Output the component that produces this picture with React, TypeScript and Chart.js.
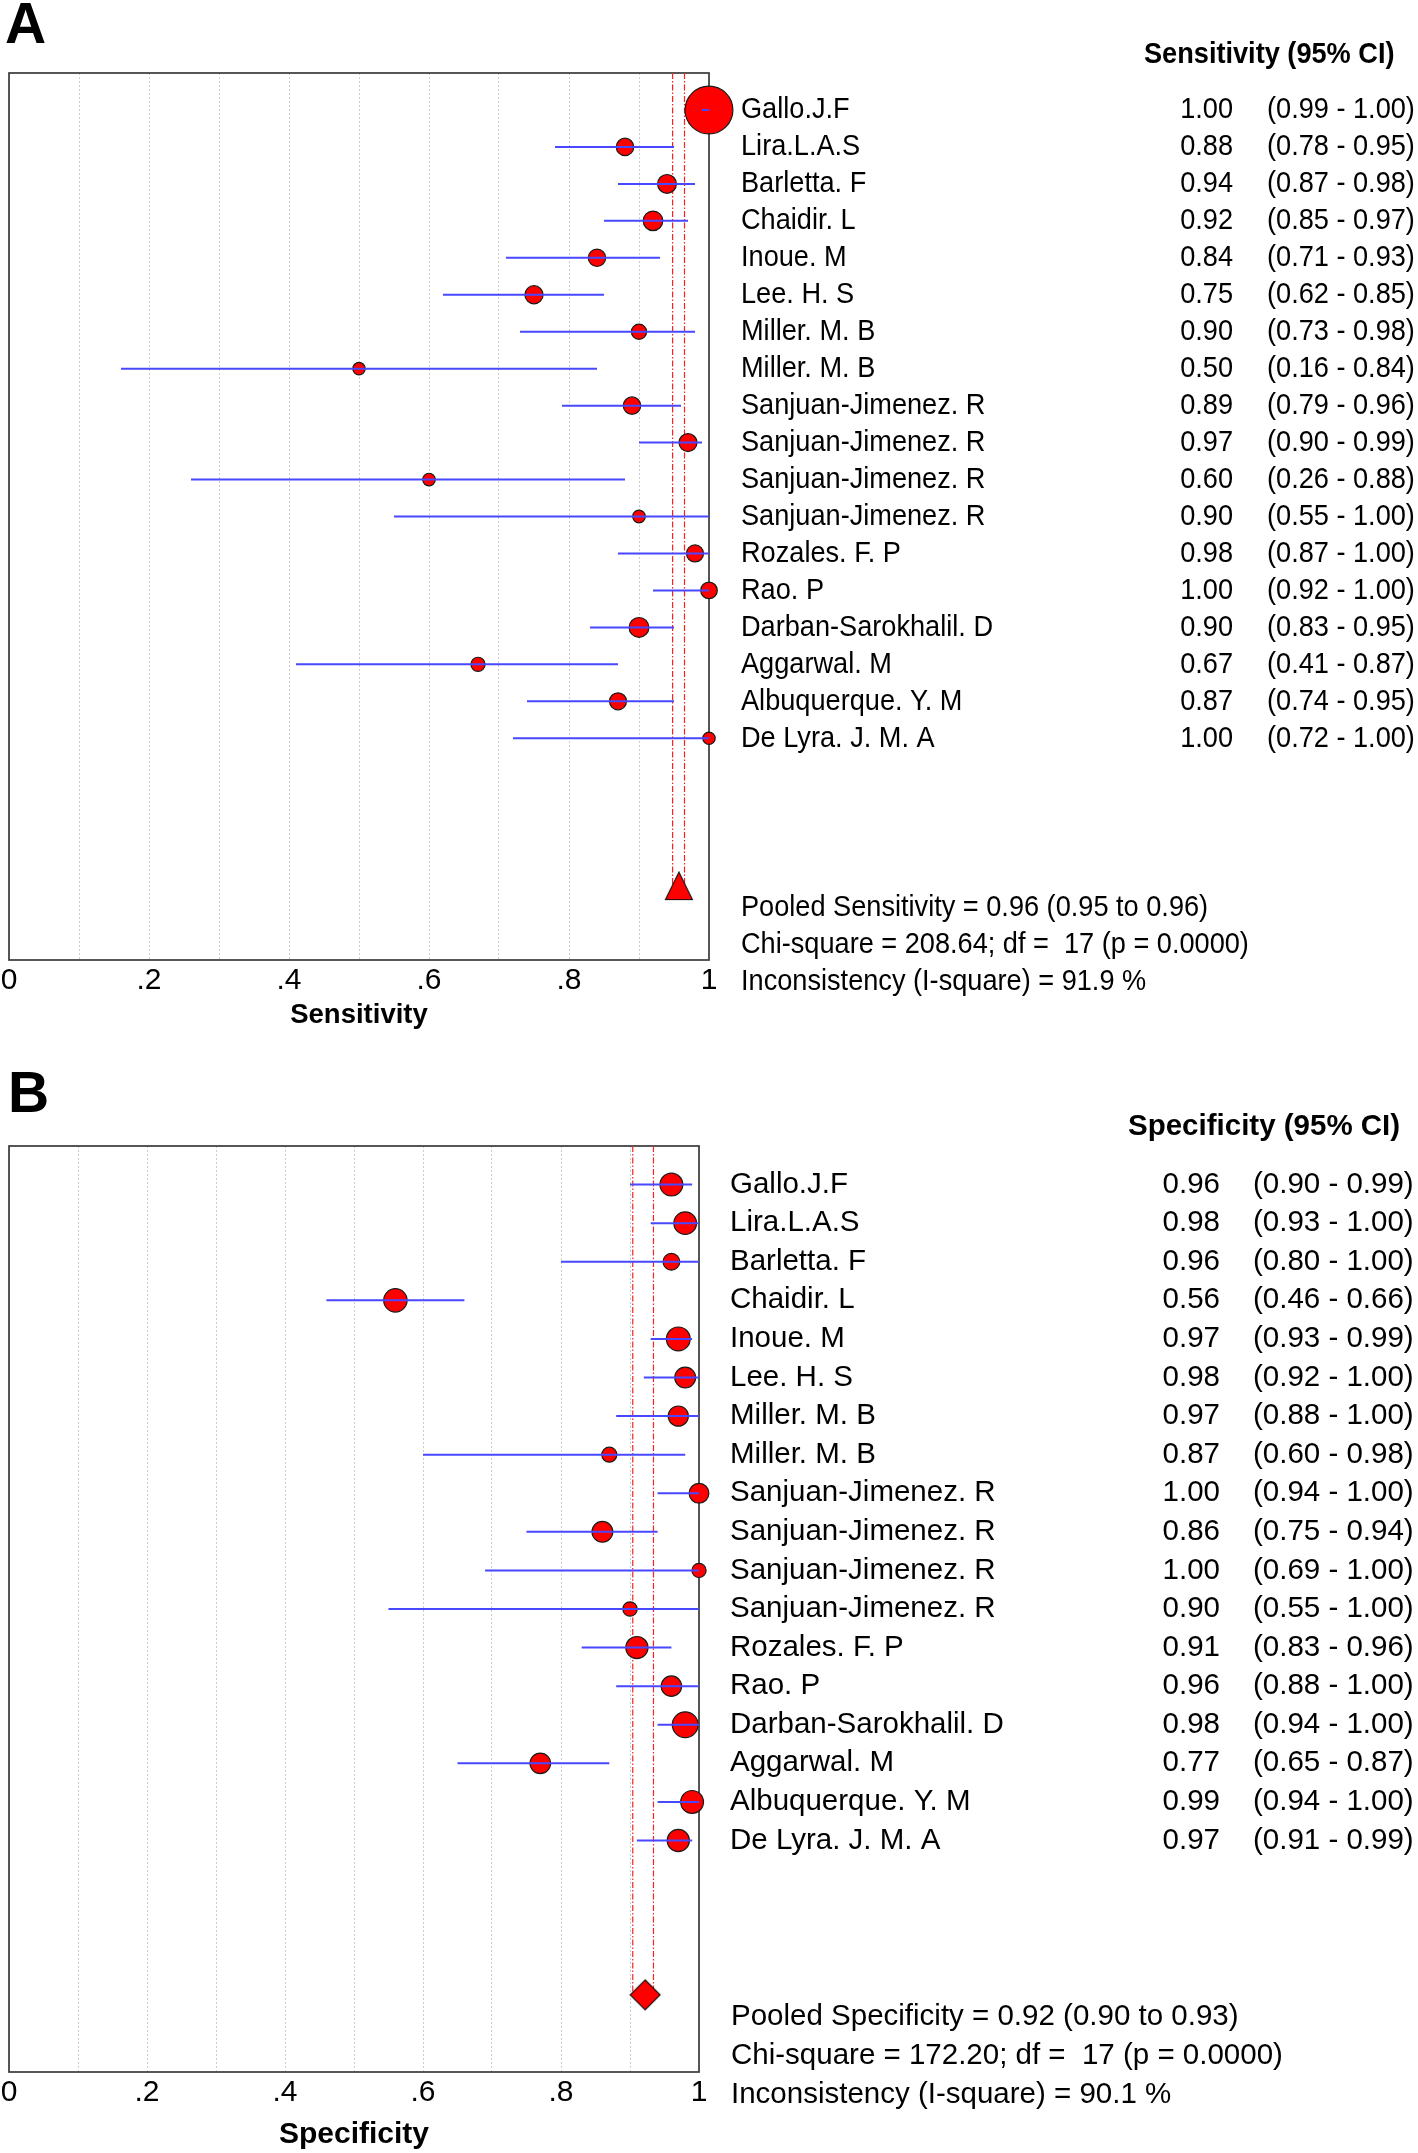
import React, { useEffect, useRef } from "react";
import { Chart, registerables } from "chart.js";

Chart.register(...registerables);

// ---------------- DATA ----------------
const studies = [
  "Gallo.J.F",
  "Lira.L.A.S",
  "Barletta. F",
  "Chaidir. L",
  "Inoue. M",
  "Lee. H. S",
  "Miller. M. B",
  "Miller. M. B",
  "Sanjuan-Jimenez. R",
  "Sanjuan-Jimenez. R",
  "Sanjuan-Jimenez. R",
  "Sanjuan-Jimenez. R",
  "Rozales. F. P",
  "Rao. P",
  "Darban-Sarokhalil. D",
  "Aggarwal. M",
  "Albuquerque. Y. M",
  "De Lyra. J. M. A",
];

const sensitivity = [1.0, 0.88, 0.94, 0.92, 0.84, 0.75, 0.9, 0.5, 0.89, 0.97, 0.6, 0.9, 0.98, 1.0, 0.9, 0.67, 0.87, 1.0];
const sensLower = [0.99, 0.78, 0.87, 0.85, 0.71, 0.62, 0.73, 0.16, 0.79, 0.9, 0.26, 0.55, 0.87, 0.92, 0.83, 0.41, 0.74, 0.72];
const sensUpper = [1.0, 0.95, 0.98, 0.97, 0.93, 0.85, 0.98, 0.84, 0.96, 0.99, 0.88, 1.0, 1.0, 1.0, 0.95, 0.87, 0.95, 1.0];
const sensWeight = [24.5, 9.3, 10, 10.4, 9.3, 9.7, 8.2, 6.8, 9.3, 9.6, 6.9, 6.9, 9.1, 8.9, 10.5, 7.7, 9.1, 6.8];

const specificity = [0.96, 0.98, 0.96, 0.56, 0.97, 0.98, 0.97, 0.87, 1.0, 0.86, 1.0, 0.9, 0.91, 0.96, 0.98, 0.77, 0.99, 0.97];
const specLower = [0.9, 0.93, 0.8, 0.46, 0.93, 0.92, 0.88, 0.6, 0.94, 0.75, 0.69, 0.55, 0.83, 0.88, 0.94, 0.65, 0.94, 0.91];
const specUpper = [0.99, 1.0, 1.0, 0.66, 0.99, 1.0, 1.0, 0.98, 1.0, 0.94, 1.0, 1.0, 0.96, 1.0, 1.0, 0.87, 1.0, 0.99];
const specWeight = [12, 11.9, 9, 12.3, 12.5, 11, 10.7, 8.1, 10.5, 11, 7.7, 7.8, 11.7, 10.8, 13.5, 10.9, 12, 11.7];

const pooledSens = 0.957;
const pooledSensCI = [0.948, 0.965];
const pooledSpec = 0.922;
const pooledSpecCI = [0.904, 0.934];

const sensSummary = [
  "Pooled Sensitivity = 0.96 (0.95 to 0.96)",
  "Chi-square = 208.64; df =  17 (p = 0.0000)",
  "Inconsistency (I-square) = 91.9 %",
];
const specSummary = [
  "Pooled Specificity = 0.92 (0.90 to 0.93)",
  "Chi-square = 172.20; df =  17 (p = 0.0000)",
  "Inconsistency (I-square) = 90.1 %",
];

const xTickLabels = ["0", ".2", ".4", ".6", ".8", "1"];

// ---------------- LAYOUT ----------------
const FONT = "'Liberation Sans', Arial, Helvetica, sans-serif";
const POOLED_ROW = 21;

type PanelCfg = {
  letter: string;
  header: string;
  axisTitle: string;
  values: number[];
  lower: number[];
  upper: number[];
  weights: number[];
  pooled: number;
  pooledCI: number[];
  pooledShape: "triangle" | "diamond";
  summary: string[];
  top: number;
  height: number;
  padTop: number;
  padLeft: number;
  padRight: number;
  xHeight: number;
  tickPad: number;
  tickFont: number;
  titleFont: number;
  titlePadBottom: number;
  fontSize: number;
  sx: number;
  nameX: number;
  valueRightX: number;
  ciX: number;
  headerX: number;
  summaryX: number;
  letterX: number;
  letterY: number;
};

const panels: PanelCfg[] = [
  {
    letter: "A",
    header: "Sensitivity (95% CI)",
    axisTitle: "Sensitivity",
    values: sensitivity,
    lower: sensLower,
    upper: sensUpper,
    weights: sensWeight,
    pooled: pooledSens,
    pooledCI: pooledSensCI,
    pooledShape: "triangle",
    summary: sensSummary,
    top: 0,
    height: 1050,
    padTop: 73,
    padLeft: 9,
    padRight: 709,
    xHeight: 90,
    tickPad: 2.5,
    tickFont: 30,
    titleFont: 27.5,
    titlePadBottom: 18,
    fontSize: 30,
    sx: 0.905,
    nameX: 741,
    valueRightX: 1233,
    ciX: 1267,
    headerX: 1144,
    summaryX: 741,
    letterX: 5,
    letterY: 43,
  },
  {
    letter: "B",
    header: "Specificity (95% CI)",
    axisTitle: "Specificity",
    values: specificity,
    lower: specLower,
    upper: specUpper,
    weights: specWeight,
    pooled: pooledSpec,
    pooledCI: pooledSpecCI,
    pooledShape: "diamond",
    summary: specSummary,
    top: 1050,
    height: 1103,
    padTop: 96,
    padLeft: 9,
    padRight: 719,
    xHeight: 81,
    tickPad: 3,
    tickFont: 30,
    titleFont: 30,
    titlePadBottom: 0.5,
    fontSize: 29.5,
    sx: 1.0,
    nameX: 730,
    valueRightX: 1220,
    ciX: 1253,
    headerX: 1128,
    summaryX: 731,
    letterX: 8,
    letterY: 62,
  },
];

function drawText(
  ctx: CanvasRenderingContext2D,
  text: string,
  x: number,
  y: number,
  font: string,
  align: CanvasTextAlign,
  sx: number,
  baseline: CanvasTextBaseline = "middle"
) {
  ctx.save();
  ctx.translate(x, y);
  ctx.scale(sx, 1);
  ctx.font = font;
  ctx.textAlign = align;
  ctx.textBaseline = baseline;
  ctx.fillStyle = "#000";
  ctx.fillText(text, 0, 0);
  ctx.restore();
}

// marker image for the pooled estimate (placed by the scales via pointStyle)
function makeMarker(shape: "triangle" | "diamond"): HTMLCanvasElement {
  const c = document.createElement("canvas");
  const w = shape === "triangle" ? 30 : 32;
  const h = shape === "triangle" ? 30 : 32;
  c.width = w;
  c.height = h;
  const g = c.getContext("2d")!;
  g.beginPath();
  if (shape === "triangle") {
    g.moveTo(w / 2, 1);
    g.lineTo(w - 1.5, h - 1.5);
    g.lineTo(1.5, h - 1.5);
  } else {
    g.moveTo(w / 2, 1);
    g.lineTo(w - 1, h / 2);
    g.lineTo(w / 2, h - 1);
    g.lineTo(1, h / 2);
  }
  g.closePath();
  g.fillStyle = "#ff0000";
  g.fill();
  g.lineWidth = 1.1;
  g.strokeStyle = "#111";
  g.stroke();
  return c;
}

function Panel({ cfg }: { cfg: PanelCfg }) {
  const ref = useRef<HTMLCanvasElement | null>(null);

  useEffect(() => {
    const canvas = ref.current;
    if (!canvas) return;

    const ciData: any[] = [];
    cfg.values.forEach((_, i) => {
      ciData.push({ x: cfg.lower[i], y: i });
      ciData.push({ x: cfg.upper[i], y: i });
      ciData.push({ x: null, y: null });
    });

    const pooledLines = [
      { x: cfg.pooledCI[0], y: -1 },
      { x: cfg.pooledCI[0], y: POOLED_ROW },
      { x: null, y: null },
      { x: cfg.pooledCI[1], y: -1 },
      { x: cfg.pooledCI[1], y: POOLED_ROW },
    ];

    const boxPlugin = {
      id: "boxPlugin",
      beforeDatasetsDraw(chart: any) {
        const { ctx, chartArea: ca } = chart;
        ctx.save();
        ctx.strokeStyle = "#3a3a3a";
        ctx.lineWidth = 1.7;
        ctx.strokeRect(ca.left, ca.top, ca.right - ca.left, ca.bottom - ca.top);
        ctx.restore();
      },
    };

    const textPlugin = {
      id: "textPlugin",
      afterDraw(chart: any) {
        const ctx: CanvasRenderingContext2D = chart.ctx;
        const ys = chart.scales.y;
        const reg = `${cfg.fontSize}px ${FONT}`;
        const bold = `bold ${cfg.fontSize}px ${FONT}`;
        drawText(ctx, cfg.letter, cfg.letterX, cfg.letterY, `bold 57px ${FONT}`, "left", 1, "alphabetic");
        drawText(ctx, cfg.header, cfg.headerX, ys.getPixelForValue(-1.5), bold, "left", cfg.sx);
        studies.forEach((name, i) => {
          const y = ys.getPixelForValue(i);
          drawText(ctx, name, cfg.nameX, y, reg, "left", cfg.sx);
          drawText(ctx, cfg.values[i].toFixed(2), cfg.valueRightX, y, reg, "right", cfg.sx);
          drawText(
            ctx,
            `(${cfg.lower[i].toFixed(2)} - ${cfg.upper[i].toFixed(2)})`,
            cfg.ciX,
            y,
            reg,
            "left",
            cfg.sx
          );
        });
        cfg.summary.forEach((line, k) => {
          drawText(ctx, line, cfg.summaryX, ys.getPixelForValue(POOLED_ROW + 0.58 + k), reg, "left", cfg.sx);
        });
      },
    };

    const chart = new Chart(canvas, {
      type: "scatter",
      data: {
        datasets: [
          {
            data: ciData,
            showLine: true,
            spanGaps: false,
            borderColor: "#4848ff",
            borderWidth: 2,
            pointRadius: 0,
            order: 0,
            clip: false,
          } as any,
          {
            data: [{ x: cfg.pooled, y: POOLED_ROW }],
            pointStyle: makeMarker(cfg.pooledShape),
            pointRadius: 15,
            order: 1,
            clip: false,
          } as any,
          {
            data: cfg.values.map((v, i) => ({ x: v, y: i })),
            pointStyle: "circle",
            pointRadius: cfg.weights.map((w) => w - 0.6),
            backgroundColor: "#ff0000",
            borderColor: "#1a1a1a",
            borderWidth: 1.2,
            order: 2,
            clip: false,
          } as any,
          {
            data: pooledLines,
            showLine: true,
            spanGaps: false,
            borderColor: "#ff2020",
            borderWidth: 1.2,
            borderDash: [6, 2, 1.5, 2],
            pointRadius: 0,
            order: 3,
            clip: false,
          } as any,
        ],
      },
      options: {
        animation: false,
        responsive: false,
        maintainAspectRatio: false,
        devicePixelRatio: 1,
        events: [],
        layout: {
          autoPadding: false,
          padding: { top: cfg.padTop, left: cfg.padLeft, right: cfg.padRight, bottom: 0 },
        },
        plugins: {
          legend: { display: false },
          tooltip: { enabled: false },
          title: { display: false },
        },
        scales: {
          x: {
            type: "linear",
            position: "bottom",
            min: 0,
            max: 1,
            ticks: {
              stepSize: 0.1,
              autoSkip: false,
              maxRotation: 0,
              minRotation: 0,
              padding: cfg.tickPad,
              color: "#000",
              font: { family: FONT, size: cfg.tickFont },
              callback: (_v: any, idx: number) => (idx % 2 === 0 ? xTickLabels[idx / 2] : ""),
            },
            grid: {
              color: "#cdcdcd",
              lineWidth: 1,
              drawTicks: false,
            },
            border: { display: false, dash: [2, 2] },
            title: {
              display: true,
              text: cfg.axisTitle,
              color: "#000",
              font: { family: FONT, size: cfg.titleFont, weight: "bold" },
              padding: { top: 0, bottom: cfg.titlePadBottom },
            },
            afterFit: (s: any) => {
              s.height = cfg.xHeight;
              s.paddingLeft = 0;
              s.paddingRight = 0;
            },
          } as any,
          y: {
            type: "linear",
            min: -1,
            max: 23,
            reverse: true,
            display: false,
          },
        },
      } as any,
      plugins: [boxPlugin, textPlugin],
    });

    return () => chart.destroy();
  }, [cfg]);

  return (
    <canvas
      ref={ref}
      width={1418}
      height={cfg.height}
      style={{ position: "absolute", left: 0, top: cfg.top, width: 1418, height: cfg.height, display: "block" }}
    />
  );
}

export default function App() {
  return (
    <div style={{ position: "absolute", left: 0, top: 0, width: 1418, height: 2153, background: "#fff" }}>
      {panels.map((p) => (
        <Panel key={p.letter} cfg={p} />
      ))}
    </div>
  );
}
